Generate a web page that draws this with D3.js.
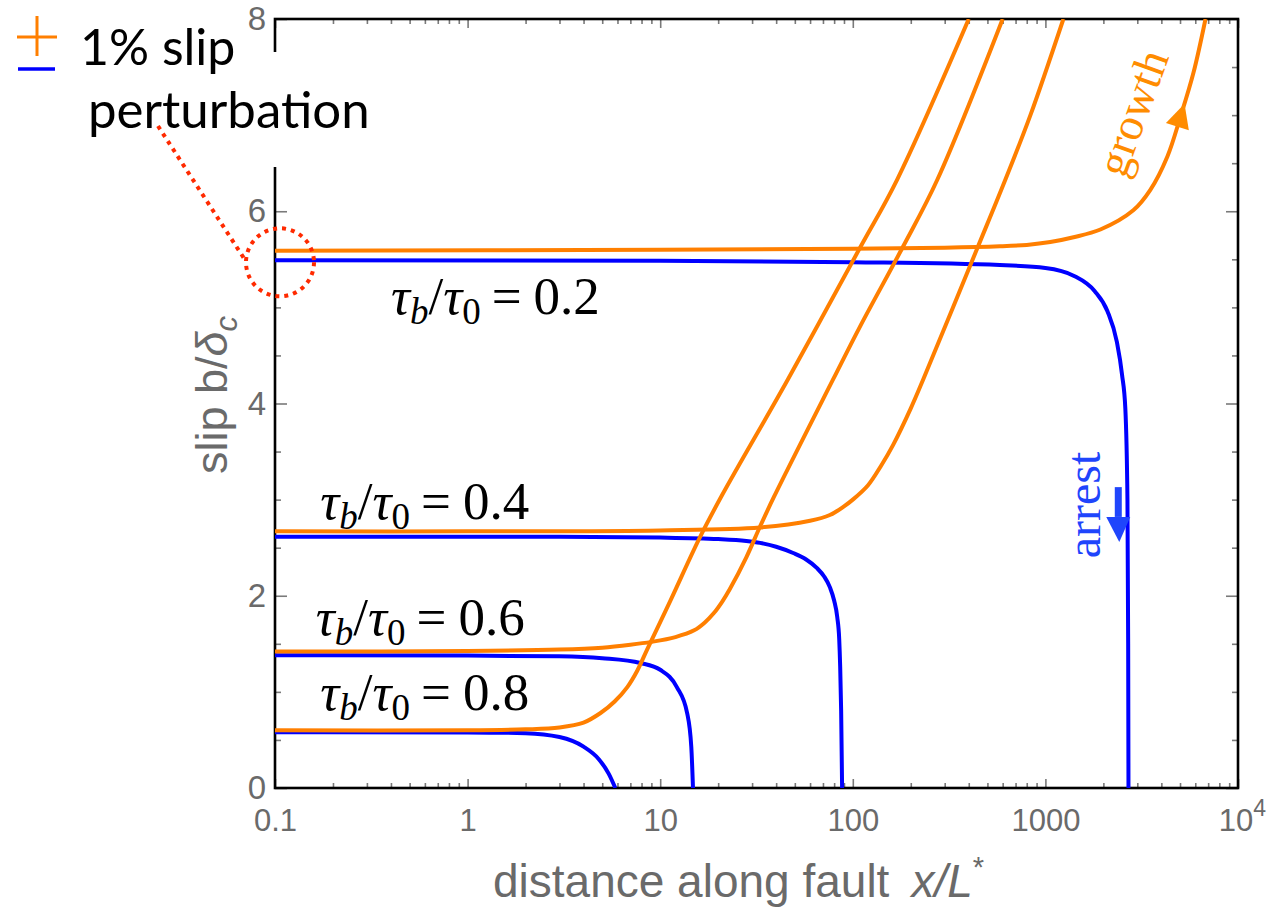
<!DOCTYPE html>
<html>
<head>
<meta charset="utf-8">
<script src="https://cdn.jsdelivr.net/npm/d3@7"></script>
<style>
  body { margin: 0; background: #fff; }
  svg { display: block; }
</style>
</head>
<body>
<svg id="canvas" width="1272" height="913"></svg>
<script>
// tau_b / tau_0 for each pair of curves
const ratios = ['0.2', '0.4', '0.6', '0.8']

// slip b/δc vs x/L*, minus 1% perturbation (blue, arrests)
const arrest02 = [[0.1,5.49],[10,5.485],[100,5.47],[580,5.44],[1000,5.41],[1400,5.33],[1800,5.17],[2100,4.96],[2350,4.64],[2500,4.3],[2600,3.95],[2667,3.0],[2690,1.5],[2700,0]]
const arrest04 = [[0.1,2.615],[3,2.613],[10,2.605],[20,2.59],[28,2.57],[33,2.55],[40,2.51],[49,2.445],[57,2.38],[65,2.29],[71,2.2],[76,2.09],[80,1.95],[83,1.78],[85,1.55],[86,1.26],[87,0.8],[88,0]]
const arrest06 = [[0.1,1.38],[1,1.378],[3,1.37],[5,1.35],[7.9,1.3],[10,1.23],[12.2,1.05],[13.8,0.78],[14.5,0.43],[14.8,0]]
const arrest08 = [[0.1,0.58],[1,0.578],[2,0.57],[3,0.53],[4,0.43],[4.8,0.3],[5.4,0.15],[5.85,0]]

// plus 1% perturbation (orange, grows)
const growth02 = [[0.1,5.59],[10,5.6],[100,5.61],[300,5.62],[580,5.635],[800,5.65],[1060,5.68],[1400,5.73],[1930,5.81],[2860,6.01],[3500,6.22],[4300,6.57],[5020,6.98],[5870,7.44],[6780,8.0]]
const growth04 = [[0.1,2.67],[1,2.67],[10,2.68],[33,2.71],[60,2.78],[76,2.84],[90,2.93],[100,3.0],[120,3.15],[140,3.35],[162,3.57],[200,3.95],[232,4.25],[444,5.62],[620,6.33],[836,7.0],[1240,8.0]]
const growth06 = [[0.1,1.42],[1,1.425],[3,1.44],[5,1.46],[7,1.49],[9,1.52],[12,1.57],[15,1.64],[17,1.72],[19,1.82],[21,1.94],[23,2.07],[28,2.4],[33,2.72],[39,3.03],[79,4.25],[109,4.8],[181,5.62],[275,6.33],[600,8.0]]
const growth08 = [[0.1,0.6],[1,0.6],[2,0.61],[3,0.63],[4,0.68],[4.9,0.78],[5.8,0.9],[6.75,1.05],[7.6,1.22],[8.55,1.44],[11.3,1.95],[16,2.6],[21,3.05],[46,4.25],[109,5.62],[170,6.33],[400,8.0]]

const arrestCurves = [arrest02, arrest04, arrest06, arrest08]
const growthCurves = [growth02, growth04, growth06, growth08]

const xTicks = [0.1, 1, 10, 100, 1000, 10000]
const xTickLabels = ['0.1', '1', '10', '100', '1000', '10']
const yTicks = [0, 2, 4, 6, 8]

// where the tau labels sit, in data units [x, b]
const labelSpots = [[0.4, 4.93], [0.172, 2.8], [0.163, 1.59], [0.172, 0.81]]

let canvas = d3.select('#canvas')

let x = d3.scaleLog().domain([0.1, 10000]).range([275, 1238])
let y = d3.scaleLinear().domain([0, 8]).range([788, 19])

const grey = '#6a6a6a'
const orange = '#ff7f00'
const blue = '#0000ff'

// minor ticks
let xMinor = []
d3.range(-1, 4).forEach(p => {
  for (let k = 2; k <= 9; k++) xMinor.push(k * Math.pow(10, p))
})
let yMinor = d3.range(0, 8.01, 0.5).filter(v => v % 2 !== 0)

let drawAxes = () => {
  let g = canvas.append('g')

  // bottom
  let bottom = g.append('g').attr('transform', `translate(0,${y(0)})`)
    .call(d3.axisBottom(x).tickValues(xTicks).tickSize(-9).tickPadding(21)
      .tickFormat((d, i) => xTickLabels[i]))
  g.append('g').attr('transform', `translate(0,${y(0)})`)
    .call(d3.axisBottom(x).tickValues(xMinor).tickSize(-5).tickFormat(''))
  // top
  g.append('g').attr('transform', `translate(0,${y(8)})`)
    .call(d3.axisTop(x).tickValues(xTicks).tickSize(-9).tickFormat(''))
  g.append('g').attr('transform', `translate(0,${y(8)})`)
    .call(d3.axisTop(x).tickValues(xMinor).tickSize(-5).tickFormat(''))
  // left
  let left = g.append('g').attr('transform', `translate(${x(0.1)},0)`)
    .call(d3.axisLeft(y).tickValues(yTicks).tickSize(-12).tickPadding(9))
  g.append('g').attr('transform', `translate(${x(0.1)},0)`)
    .call(d3.axisLeft(y).tickValues(yMinor).tickSize(-6).tickFormat(''))
  // right
  g.append('g').attr('transform', `translate(${x(10000)},0)`)
    .call(d3.axisRight(y).tickValues(yTicks).tickSize(-12).tickFormat(''))
  g.append('g').attr('transform', `translate(${x(10000)},0)`)
    .call(d3.axisRight(y).tickValues(yMinor).tickSize(-6).tickFormat(''))

  g.selectAll('.domain').remove()
  g.selectAll('.tick line').attr('stroke', '#7a7a7a').attr('stroke-width', 1.6)
  g.selectAll('.tick text')
    .attr('fill', grey)
    .attr('font-family', '"Liberation Sans", Arial, sans-serif')
    .attr('font-size', 31)
  left.selectAll('.tick text').attr('font-size', 33)

  // 10^4
  bottom.selectAll('.tick text').filter(d => d === 10000)
    .attr('dx', 4)
    .append('tspan').attr('dy', -15).attr('font-size', 23).text('4')

  // frame
  g.append('rect')
    .attr('x', x(0.1)).attr('y', y(8))
    .attr('width', x(10000) - x(0.1)).attr('height', y(0) - y(8))
    .attr('fill', 'none').attr('stroke', '#000').attr('stroke-width', 2.6)
}

let drawCurves = () => {
  canvas.append('clipPath').attr('id', 'plotclip')
    .append('rect')
    .attr('x', x(0.1)).attr('y', y(8))
    .attr('width', x(10000) - x(0.1)).attr('height', y(0) - y(8))

  let line = d3.line()
    .x(d => x(d[0]))
    .y(d => y(d[1]))
    .curve(d3.curveMonotoneX)

  let smooth = d3.line()
    .x(d => x(d[0]))
    .y(d => y(d[1]))
    .curve(d3.curveCatmullRom.alpha(0.5))

  let g = canvas.append('g').attr('clip-path', 'url(#plotclip)')

  g.selectAll('path.arrest')
    .data(arrestCurves)
    .enter()
    .append('path')
    .attr('class', 'arrest')
    .attr('d', line)
    .attr('fill', 'none')
    .attr('stroke', blue)
    .attr('stroke-width', 4)

  g.selectAll('path.growth')
    .data(growthCurves)
    .enter()
    .append('path')
    .attr('class', 'growth')
    .attr('d', smooth)
    .attr('fill', 'none')
    .attr('stroke', orange)
    .attr('stroke-width', 4)
}

let drawLabels = () => {
  // tau_b/tau_0 = ...
  canvas.selectAll('text.tau')
    .data(ratios)
    .enter()
    .append('text')
    .attr('class', 'tau')
    .attr('x', (d, i) => x(labelSpots[i][0]))
    .attr('y', (d, i) => y(labelSpots[i][1]))
    .attr('font-family', '"Liberation Serif", "Times New Roman", serif')
    .attr('font-size', 53)
    .attr('fill', '#000')
    .each(function(d) {
      let t = d3.select(this)
      t.append('tspan').attr('font-style', 'italic').text('τ')
      t.append('tspan').attr('font-style', 'italic').attr('font-size', 37).attr('dy', 10).text('b')
      t.append('tspan').attr('dy', -10).text('/')
      t.append('tspan').attr('font-style', 'italic').text('τ')
      t.append('tspan').attr('font-size', 37).attr('dy', 10).text('0')
      t.append('tspan').attr('dy', -10).attr('dx', 11).text('=')
      t.append('tspan').attr('dx', 12).text(d)
    })

  // axis titles
  let xt = canvas.append('text')
    .attr('x', 493).attr('y', 897)
    .attr('font-family', '"Liberation Sans", Arial, sans-serif')
    .attr('font-size', 46)
    .attr('fill', grey)
  xt.append('tspan').text('distance along fault')
  xt.append('tspan').attr('dx', 22).attr('font-style', 'italic').text('x/L')
  xt.append('tspan').attr('font-size', 29).attr('dy', -20).text('*')

  let yt = canvas.append('text')
    .attr('transform', 'translate(227,395) rotate(-90)')
    .attr('text-anchor', 'middle')
    .attr('font-family', '"Liberation Sans", Arial, sans-serif')
    .attr('font-size', 45)
    .attr('fill', grey)
  yt.append('tspan').text('slip  b/')
  yt.append('tspan').attr('font-style', 'italic').text('δ')
  yt.append('tspan').attr('font-style', 'italic').attr('font-size', 31).attr('dy', 10).text('c')
}

let drawNotes = () => {
  // white patch over the axis behind the legend
  canvas.append('rect')
    .attr('x', 0).attr('y', 52).attr('width', 300).attr('height', 115)
    .attr('fill', '#fff')

  // legend
  canvas.append('line').attr('x1', 17).attr('x2', 57).attr('y1', 37).attr('y2', 37)
    .attr('stroke', orange).attr('stroke-width', 3)
  canvas.append('line').attr('x1', 37).attr('x2', 37).attr('y1', 16).attr('y2', 56)
    .attr('stroke', orange).attr('stroke-width', 3)
  canvas.append('line').attr('x1', 18).attr('x2', 55).attr('y1', 69).attr('y2', 69)
    .attr('stroke', blue).attr('stroke-width', 3.5)

  canvas.append('text').attr('x', 80).attr('y', 65)
    .attr('font-family', 'Lato, "Open Sans", sans-serif').attr('font-size', 50)
    .attr('fill', '#000').text('1% slip')
  canvas.append('text').attr('x', 88).attr('y', 128)
    .attr('font-family', 'Lato, "Open Sans", sans-serif').attr('font-size', 51)
    .attr('fill', '#000').text('perturbation')

  // red dotted pointer and circle
  let cx = x(0.1) + 5, cy = y(5.5) + 3
  canvas.append('line')
    .attr('x1', 158).attr('y1', 126).attr('x2', cx - 36).attr('y2', cy - 4)
    .attr('stroke', '#ff2a00').attr('stroke-width', 4).attr('stroke-dasharray', '4 5')
  canvas.append('circle')
    .attr('cx', cx).attr('cy', cy).attr('r', 34)
    .attr('fill', 'none')
    .attr('stroke', '#ff2a00').attr('stroke-width', 4).attr('stroke-dasharray', '4 5')

  // growth arrow on the 0.2 curve
  let p0 = [x(4300), y(6.57)], p1 = [x(5870), y(7.44)]
  let c = [x(5020), y(6.98)]
  let ang = Math.atan2(p1[1] - p0[1], p1[0] - p0[0]) * 180 / Math.PI
  canvas.append('path')
    .attr('d', 'M14,0 L-10,-12 L-10,12 Z')
    .attr('transform', `translate(${c[0]},${c[1]}) rotate(${ang})`)
    .attr('fill', '#ff8c00')

  canvas.append('text')
    .attr('transform', 'translate(1147,118) rotate(-70)')
    .attr('text-anchor', 'middle')
    .attr('font-family', '"Liberation Serif", "Times New Roman", serif')
    .attr('font-size', 46)
    .attr('fill', '#ff8c00')
    .text('growth')

  // arrest arrow
  let ax = x(2390)
  canvas.append('rect')
    .attr('x', ax - 3.5).attr('y', y(3.13)).attr('width', 7).attr('height', y(2.82) - y(3.13))
    .attr('fill', '#1f45fc')
  canvas.append('path')
    .attr('d', `M${ax - 12},${y(2.82)} L${ax + 12},${y(2.82)} L${ax + 1},${y(2.56)} Z`)
    .attr('fill', '#1f45fc')

  canvas.append('text')
    .attr('transform', 'translate(1100,505) rotate(-90)')
    .attr('text-anchor', 'middle')
    .attr('font-family', '"Liberation Serif", "Times New Roman", serif')
    .attr('font-size', 48)
    .attr('fill', '#1f45fc')
    .text('arrest')
}

drawAxes()
drawCurves()
drawLabels()
drawNotes()
</script>
</body>
</html>
